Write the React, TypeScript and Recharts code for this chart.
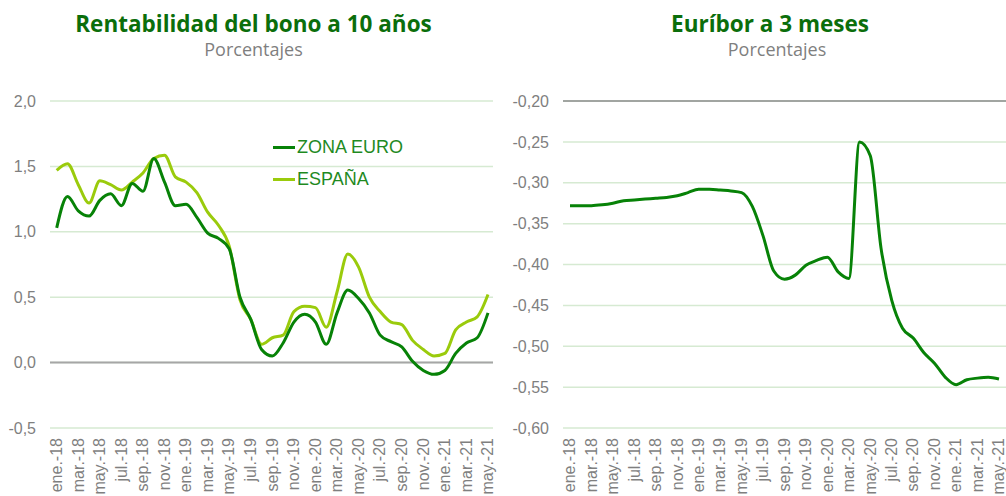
import { LineChart, Line, XAxis, YAxis, CartesianGrid, ReferenceLine } from 'recharts';

const months = [
  'ene.-18', 'feb.-18', 'mar.-18', 'abr.-18', 'may.-18', 'jun.-18', 'jul.-18', 'ago.-18', 'sep.-18', 'oct.-18', 'nov.-18', 'dic.-18',
  'ene.-19', 'feb.-19', 'mar.-19', 'abr.-19', 'may.-19', 'jun.-19', 'jul.-19', 'ago.-19', 'sep.-19', 'oct.-19', 'nov.-19', 'dic.-19',
  'ene.-20', 'feb.-20', 'mar.-20', 'abr.-20', 'may.-20', 'jun.-20', 'jul.-20', 'ago.-20', 'sep.-20', 'oct.-20', 'nov.-20', 'dic.-20',
  'ene.-21', 'feb.-21', 'mar.-21', 'abr.-21', 'may.-21',
];

// rentabilidad bono 10 años (%)
const zonaEuro = [
  1.03, 1.27, 1.16, 1.12, 1.24, 1.29, 1.20, 1.37, 1.31, 1.56, 1.38, 1.20,
  1.21, 1.11, 0.99, 0.95, 0.87, 0.50, 0.33, 0.10, 0.05, 0.15, 0.31, 0.37,
  0.31, 0.14, 0.38, 0.555, 0.49, 0.38, 0.21, 0.16, 0.12, 0.01, -0.06, -0.09,
  -0.06, 0.07, 0.15, 0.19, 0.38,
];
const espana = [
  1.47, 1.52, 1.36, 1.22, 1.39, 1.36, 1.32, 1.38, 1.45, 1.56, 1.585, 1.42,
  1.38, 1.30, 1.15, 1.05, 0.89, 0.48, 0.33, 0.14, 0.19, 0.21, 0.39, 0.43,
  0.42, 0.27, 0.54, 0.83, 0.73, 0.50, 0.39, 0.31, 0.29, 0.17, 0.10, 0.05,
  0.07, 0.25, 0.31, 0.35, 0.52,
];

// euribor 3 meses (%)
const euribor = [
  -0.328, -0.328, -0.328, -0.327, -0.325, -0.322, -0.321, -0.320, -0.319, -0.318, -0.316, -0.312,
  -0.308, -0.308, -0.309, -0.310, -0.312, -0.329, -0.365, -0.408, -0.418, -0.413, -0.401, -0.395,
  -0.391, -0.409, -0.417, -0.250, -0.267, -0.380, -0.444, -0.478, -0.490, -0.508, -0.521, -0.538,
  -0.547, -0.541, -0.539, -0.538, -0.540,
];

const leftTicks = [-0.5, 0, 0.5, 1, 1.5, 2];
const rightTicks = [-0.6, -0.55, -0.5, -0.45, -0.4, -0.35, -0.3, -0.25, -0.2];

const bondData = months.map((m, i) => ({ month: m, zona: zonaEuro[i], espana: espana[i] }));
const euriborData = months.map((m, i) => ({ month: m, euribor: euribor[i] }));

const DARK = '#078207';
const LIGHT = '#9acb0c';
const GRID = '#d6ead2';
const TXT = '#7f7f7f';
const FONT = '"Liberation Sans", Arial, sans-serif';
const TITLE_FONT = '"Open Sans", sans-serif';

const MonthTick = (props: any) => {
  const { x, y, payload } = props;
  return (
    <text
      x={x}
      y={y}
      transform={`rotate(-90, ${x}, ${y})`}
      textAnchor="end"
      dy="0.33em"
      fill={TXT}
      fontSize={16}
      fontFamily={FONT}
    >
      {payload.value}
    </text>
  );
};

const legendItems = [
  { name: 'ZONA EURO', color: DARK },
  { name: 'ESPAÑA', color: LIGHT },
];

export default function App() {
  return (
    <div style={{ position: 'absolute', left: 0, top: 0, width: 1006, height: 496, background: '#fff', overflow: 'hidden' }}>
      <svg width={1006} height={70} style={{ position: 'absolute', left: 0, top: 0 }}>
        <text x={253.5} y={32} textAnchor="middle" fontFamily={TITLE_FONT} fontWeight={700} fontSize={22.5} fill="#0b6e0b">
          Rentabilidad del bono a 10 años
        </text>
        <text x={253.5} y={56} textAnchor="middle" fontFamily={TITLE_FONT} fontSize={18} fill={TXT}>
          Porcentajes
        </text>
        <text x={770} y={32} textAnchor="middle" fontFamily={TITLE_FONT} fontWeight={700} fontSize={22.5} fill="#0b6e0b">
          Euríbor a 3 meses
        </text>
        <text x={777} y={56} textAnchor="middle" fontFamily={TITLE_FONT} fontSize={18} fill={TXT}>
          Porcentajes
        </text>
      </svg>

      <div style={{ position: 'absolute', left: 0, top: 0 }}>
        <LineChart width={503} height={496} data={bondData} margin={{ top: 101, right: 10, bottom: 0, left: 0 }}>
          <CartesianGrid vertical={false} stroke={GRID} strokeWidth={1.5} />
          <ReferenceLine y={0} stroke="#a6a6a6" strokeWidth={2} />
          <XAxis
            dataKey="month"
            interval={1}
            tick={<MonthTick />}
            tickSize={0}
            tickMargin={10}
            axisLine={false}
            height={68}
            padding={{ left: 6.7, right: 5 }}
          />
          <YAxis
            domain={[-0.5, 2]}
            ticks={leftTicks}
            tickFormatter={(v: number) => v.toFixed(1).replace('.', ',')}
            tick={{ fill: TXT, fontSize: 16, fontFamily: FONT }}
            tickSize={0}
            tickMargin={14}
            axisLine={false}
            width={50}
          />
          <Line type="monotone" dataKey="espana" name="ESPAÑA" stroke={LIGHT} strokeWidth={3} dot={false} isAnimationActive={false} />
          <Line type="monotone" dataKey="zona" name="ZONA EURO" stroke={DARK} strokeWidth={3} dot={false} isAnimationActive={false} />
        </LineChart>
      </div>

      <div style={{ position: 'absolute', left: 273, top: 131, fontFamily: FONT, fontSize: 18, color: '#1f8a1f', lineHeight: '32px' }}>
        {legendItems.map((it) => (
          <div key={it.name} style={{ display: 'flex', alignItems: 'center' }}>
            <span style={{ display: 'inline-block', width: 22, height: 3, background: it.color, marginRight: 2 }} />
            <span>{it.name}</span>
          </div>
        ))}
      </div>

      <div style={{ position: 'absolute', left: 503, top: 0 }}>
        <LineChart width={503} height={496} data={euriborData} margin={{ top: 101, right: 0, bottom: 0, left: 0 }}>
          <CartesianGrid vertical={false} stroke={GRID} strokeWidth={1.5} />
          <ReferenceLine y={-0.2} stroke="#8c8c8c" strokeWidth={1.5} />
          <XAxis
            dataKey="month"
            interval={1}
            tick={<MonthTick />}
            tickSize={0}
            tickMargin={10}
            axisLine={false}
            height={68}
            padding={{ left: 7, right: 7 }}
          />
          <YAxis
            domain={[-0.6, -0.2]}
            ticks={rightTicks}
            tickFormatter={(v: number) => v.toFixed(2).replace('.', ',')}
            tick={{ fill: TXT, fontSize: 16, fontFamily: FONT }}
            tickSize={0}
            tickMargin={14}
            axisLine={false}
            width={60}
          />
          <Line type="monotone" dataKey="euribor" stroke={DARK} strokeWidth={3} dot={false} isAnimationActive={false} />
        </LineChart>
      </div>
    </div>
  );
}
